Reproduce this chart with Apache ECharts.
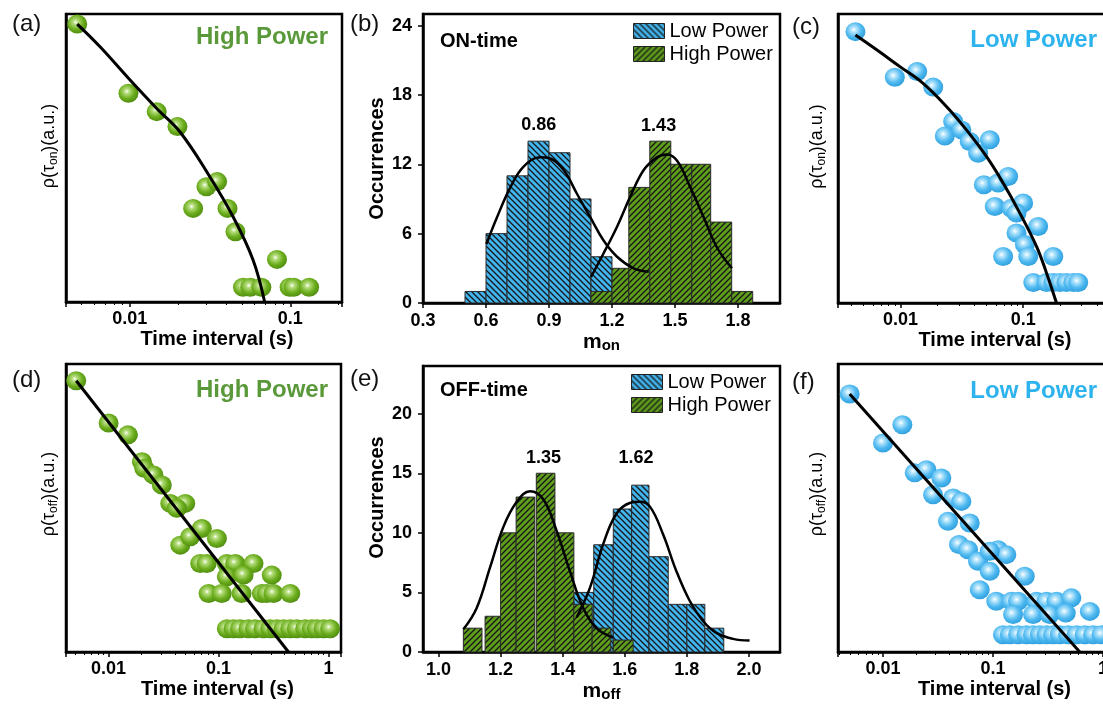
<!DOCTYPE html>
<html>
<head>
<meta charset="utf-8">
<title>ON/OFF time statistics</title>
<script src="https://cdn.jsdelivr.net/npm/echarts@6.0.0/dist/echarts.min.js"></script>
<style>
  html, body { margin: 0; padding: 0; background: #fff; }
  #main { width: 1103px; height: 705px; }
</style>
</head>
<body>
<div id="main"></div>
<script>
(function () {
  'use strict';

  // (a) high power, on-time distribution (x in s, y in arbitrary units 0-100)
  var A_X = [0.0047, 0.0098, 0.0147, 0.0198, 0.030, 0.035, 0.0248, 0.0406, 0.0455, 0.0826, 0.0507, 0.0563, 0.066, 0.099, 0.105, 0.131];
  var A_Y = [96.5, 72.5, 66.1, 60.9, 40.0, 41.8, 32.5, 32.5, 24.4, 14.8, 5.1, 5.1, 5.1, 5.1, 5.1, 5.1];
  var A_FIT_X = [0.0047, 0.0065, 0.0098, 0.0147, 0.0205, 0.0315, 0.044, 0.0586, 0.0692];
  var A_FIT_Y = [96.5, 88.7, 77.7, 67.2, 59.1, 43.5, 29.6, 14.6, 0];

  // (c) low power, on-time distribution
  var C_X = [0.0043, 0.0090, 0.0137, 0.0185, 0.0269, 0.0230, 0.0314, 0.0367, 0.0430, 0.0535, 0.0478, 0.0625, 0.0755, 0.0587, 0.0803,
    0.100, 0.0883, 0.1325, 0.0883, 0.1033, 0.0687, 0.110, 0.176, 0.121, 0.155, 0.176, 0.199, 0.225, 0.256, 0.281];
  var C_Y = [93.9, 78.1, 80.1, 74.7, 62.8, 57.8, 59.9, 55.9, 51.8, 56.5, 40.9, 41.5, 43.8, 33.4, 32.8,
    34.6, 31.1, 26.5, 24.2, 20.2, 16.1, 16.1, 16.1, 7.1, 7.1, 7.1, 7.1, 7.1, 7.1, 7.1];
  var C_FIT_X = [0.0043, 0.0064, 0.0099, 0.0153, 0.0237, 0.0345, 0.0502, 0.0687, 0.094, 0.1285, 0.155, 0.187];
  var C_FIT_Y = [92.7, 87.6, 81.8, 76.0, 68.0, 59.9, 50.7, 41.5, 31.1, 19.6, 10.4, 0];

  // (d) high power, off-time distribution
  var D_X = [0.00508, 0.0100, 0.0150, 0.0201, 0.0211, 0.0256, 0.0305, 0.0364, 0.0498, 0.0418, 0.0449, 0.0553, 0.0705, 0.0967,
    0.0681, 0.0781, 0.119, 0.142, 0.208, 0.119, 0.169, 0.0812, 0.107, 0.162, 0.248, 0.275, 0.316, 0.449, 0.305,
    0.119, 0.137, 0.157, 0.187, 0.215, 0.256, 0.295, 0.339, 0.390, 0.449, 0.515, 0.614, 0.705, 0.783, 0.901, 1.035];
  var D_Y = [94.2, 79.5, 75.4, 66.1, 63.8, 61.5, 58.0, 51.6, 51.6, 49.9, 37.1, 40.0, 42.9, 39.4,
    30.7, 30.7, 30.7, 30.7, 30.7, 26.1, 26.7, 20.3, 20.3, 20.3, 20.3, 20.3, 20.3, 20.3, 26.7,
    8.1, 8.1, 8.1, 8.1, 8.1, 8.1, 8.1, 8.1, 8.1, 8.1, 8.1, 8.1, 8.1, 8.1, 8.1, 8.1];
  var D_FIT_X = [0.00508, 0.433];
  var D_FIT_Y = [94.2, 0];

  // (f) low power, off-time distribution
  var F_X = [0.00498, 0.0100, 0.0150, 0.0194, 0.0248, 0.0339, 0.0285, 0.0433, 0.0515, 0.0390, 0.0614, 0.0490, 0.0593, 0.0730,
    0.0933, 0.111, 0.132, 0.0933, 0.0757, 0.107, 0.147, 0.194, 0.169, 0.248, 0.306, 0.377, 0.515, 0.152, 0.231, 0.326, 0.458, 0.757,
    0.123, 0.142, 0.169, 0.201, 0.231, 0.266, 0.306, 0.351, 0.404, 0.481, 0.573, 0.681, 0.811, 0.966];
  var F_Y = [89.6, 72.6, 78.9, 62.2, 63.3, 60.4, 54.6, 53.5, 52.3, 45.4, 44.8, 37.3, 35.5, 31.5,
    28.0, 35.5, 33.8, 35.0, 21.6, 17.6, 17.6, 26.3, 17.6, 17.6, 17.6, 17.6, 18.8, 13.0, 13.0, 13.0, 13.5, 14.1,
    6.0, 6.0, 6.0, 6.0, 6.0, 6.0, 6.0, 6.0, 6.0, 6.0, 6.0, 6.0, 6.0, 6.0];
  var F_FIT_X = [0.00498, 0.614];
  var F_FIT_Y = [89.6, 0];

  // (b) ON-time histograms: bin start, bin end, count
  var B_LOW_START = [0.5, 0.6, 0.7, 0.8, 0.9, 1.0, 1.1];
  var B_LOW_END = [0.6, 0.7, 0.8, 0.9, 1.0, 1.1, 1.2];
  var B_LOW_COUNT = [1, 6, 11, 14, 13, 9, 4];
  var B_HIGH_START = [1.1, 1.2, 1.28, 1.38, 1.48, 1.58, 1.67, 1.77];
  var B_HIGH_END = [1.2, 1.28, 1.38, 1.48, 1.58, 1.67, 1.77, 1.87];
  var B_HIGH_COUNT = [1, 3, 10, 14, 12, 12, 7, 1];
  var B_LOW_FIT_X = [0.602, 0.652, 0.716, 0.779, 0.859, 0.906, 0.970, 1.033, 1.097, 1.160, 1.224, 1.303, 1.375];
  var B_LOW_FIT_Y = [5.1, 7.4, 10.0, 11.8, 12.6, 12.5, 11.5, 9.45, 7.4, 5.4, 4.0, 3.0, 2.7];
  var B_HIGH_FIT_X = [1.10, 1.16, 1.224, 1.287, 1.351, 1.414, 1.462, 1.510, 1.573, 1.637, 1.700, 1.771];
  var B_HIGH_FIT_Y = [2.25, 4.3, 6.6, 9.2, 11.5, 12.6, 12.85, 12.3, 10.0, 7.4, 4.8, 3.0];
  var B_PEAK_TEXT = ['0.86', '1.43'];
  var B_PEAK_X = [0.851, 1.422];
  var B_PEAK_Y = [15.4, 15.3];

  // (e) OFF-time histograms
  var E_LOW_START = [1.436, 1.50, 1.563, 1.622, 1.678, 1.74, 1.80, 1.858];
  var E_LOW_END = [1.50, 1.563, 1.622, 1.678, 1.74, 1.80, 1.858, 1.919];
  var E_LOW_COUNT = [5, 9, 12, 14, 8, 4, 4, 2];
  var E_HIGH_START = [1.08, 1.15, 1.20, 1.25, 1.315, 1.375, 1.436, 1.495, 1.563];
  var E_HIGH_END = [1.14, 1.20, 1.25, 1.31, 1.375, 1.436, 1.495, 1.555, 1.627];
  var E_HIGH_COUNT = [2, 3, 10, 13, 15, 10, 4, 2, 1];
  var E_LOW_FIT_X = [1.445, 1.488, 1.531, 1.573, 1.616, 1.648, 1.681, 1.723, 1.766, 1.809, 1.852, 1.895, 1.949, 2.002];
  var E_LOW_FIT_Y = [2.9, 5.4, 9.1, 11.6, 12.5, 12.6, 12.2, 9.9, 6.8, 4.3, 2.6, 1.6, 1.1, 0.96];
  var E_HIGH_FIT_X = [1.080, 1.123, 1.166, 1.209, 1.252, 1.295, 1.338, 1.380, 1.423, 1.466, 1.509, 1.563];
  var E_HIGH_FIT_Y = [1.9, 3.7, 7.1, 10.5, 12.6, 13.5, 12.8, 10.2, 6.8, 3.7, 2.0, 1.2];
  var E_PEAK_TEXT = ['1.35', '1.62'];
  var E_PEAK_X = [1.338, 1.636];
  var E_PEAK_Y = [16.3, 16.3];

  // tick labels
  var B_X_TICKS = [0.3, 0.6, 0.9, 1.2, 1.5, 1.8];
  var B_Y_TICKS = [0, 6, 12, 18, 24];
  var E_X_TICKS = [1.0, 1.2, 1.4, 1.6, 1.8, 2.0];
  var E_Y_TICKS = [0, 5, 10, 15, 20];

  var FONT = '"Liberation Sans", Arial, Helvetica, sans-serif';
  var BLACK = '#000';
  var GREEN_TEXT = '#5a993a';
  var BLUE_TEXT = '#2db3ed';

  function hatch(bg, rising) {
    var s = 6;
    var c = document.createElement('canvas');
    c.width = s;
    c.height = s;
    var g = c.getContext('2d');
    g.fillStyle = bg;
    g.fillRect(0, 0, s, s);
    g.strokeStyle = '#161616';
    g.lineWidth = 1.3;
    g.beginPath();
    if (rising) {
      g.moveTo(-1, s + 1); g.lineTo(s + 1, -1);
      g.moveTo(-1, 1); g.lineTo(1, -1);
      g.moveTo(s - 1, s + 1); g.lineTo(s + 1, s - 1);
    } else {
      g.moveTo(-1, -1); g.lineTo(s + 1, s + 1);
      g.moveTo(s - 1, -1); g.lineTo(s + 1, 1);
      g.moveTo(-1, s - 1); g.lineTo(1, s + 1);
    }
    g.stroke();
    return {image: c, repeat: 'repeat'};
  }

  function sphere(light, base, dark) {
    return {
      type: 'radial', x: 0.42, y: 0.4, r: 0.62,
      colorStops: [
        {offset: 0, color: '#ffffff'},
        {offset: 0.2, color: light},
        {offset: 0.62, color: base},
        {offset: 1, color: dark}
      ]
    };
  }

  var LOW_FILL = hatch('#42b4ee', false);
  var HIGH_FILL = hatch('#5f9d1c', true);
  var GREEN_BALL = sphere('#b4dd7c', '#6cad1d', '#4f8c10');
  var BLUE_BALL = sphere('#b8e6fc', '#4fb9f0', '#2f9fdd');

  function pairs(xs, ys) {
    return xs.map(function (x, i) { return [x, ys[i]]; });
  }

  function bins(starts, ends, counts) {
    return counts.map(function (c, i) { return [starts[i], ends[i], c]; });
  }

  function axisLine() {
    return {show: true, onZero: false, lineStyle: {color: BLACK, width: 2.5}};
  }

  function decadeLabel(v) {
    var l = Math.log(v) / Math.LN10;
    var r = Math.round(l);
    if (Math.abs(l - r) > 1e-6) {
      return '';
    }
    return String(Math.pow(10, r));
  }

  var grids = [
    {left: 66, top: 14, width: 276, height: 288},
    {left: 423, top: 14, width: 357, height: 289},
    {left: 838, top: 14, width: 276, height: 289},
    {left: 66, top: 364, width: 275, height: 288},
    {left: 423, top: 366, width: 357, height: 286},
    {left: 838, top: 364, width: 275, height: 288}
  ].map(function (g) {
    g.show = true;
    g.borderColor = BLACK;
    g.borderWidth = 2.5;
    g.backgroundColor = 'transparent';
    g.containLabel = false;
    g.outerBoundsMode = 'none';
    return g;
  });

  function logAxis(gi, min, max, namePad) {
    return {
      type: 'log', logBase: 10, gridIndex: gi, min: min, max: max,
      axisLine: axisLine(),
      axisTick: {show: true, length: 5, lineStyle: {color: BLACK, width: 1.5}},
      minorTick: {show: true, splitNumber: 9, length: 3, lineStyle: {color: BLACK, width: 1}},
      axisLabel: {margin: 8, color: BLACK, fontFamily: FONT, fontWeight: 'bold', fontSize: 18, formatter: decadeLabel},
      splitLine: {show: false},
      minorSplitLine: {show: false},
      name: 'Time interval (s)', nameLocation: 'middle', nameGap: 27,
      nameTextStyle: {color: BLACK, fontFamily: FONT, fontWeight: 'bold', fontSize: 20, padding: [0, 0, 0, namePad]}
    };
  }

  function blankYAxis(gi, sub, gap, namePad) {
    return {
      type: 'value', gridIndex: gi, min: 0, max: 100,
      axisLine: axisLine(),
      axisTick: {show: false},
      axisLabel: {show: false},
      splitLine: {show: false},
      name: '{n|ρ(τ}{s|' + sub + '}{n|)(a.u.)}', nameLocation: 'middle', nameGap: gap,
      nameTextStyle: {
        color: BLACK, fontFamily: FONT, fontSize: 18, padding: [0, 0, 0, namePad],
        rich: {
          n: {color: BLACK, fontFamily: FONT, fontSize: 18, lineHeight: 22},
          s: {color: BLACK, fontFamily: FONT, fontSize: 12, lineHeight: 12, verticalAlign: 'bottom'}
        }
      }
    };
  }

  function histXAxis(gi, min, max, ticks, sub) {
    return {
      type: 'value', gridIndex: gi, min: min, max: max,
      axisLine: axisLine(),
      axisTick: {show: true, length: 5, customValues: ticks, lineStyle: {color: BLACK, width: 1.5}},
      axisLabel: {
        customValues: ticks, margin: 9, color: BLACK, fontFamily: FONT, fontWeight: 'bold', fontSize: 18,
        formatter: function (v) { return Number(v).toFixed(1); }
      },
      splitLine: {show: false},
      name: '{m|m}{s|' + sub + '}', nameLocation: 'middle', nameGap: 28,
      nameTextStyle: {
        color: BLACK, fontFamily: FONT, fontWeight: 'bold', fontSize: 20,
        rich: {
          m: {color: BLACK, fontFamily: FONT, fontWeight: 'bold', fontSize: 21, lineHeight: 22},
          s: {color: BLACK, fontFamily: FONT, fontWeight: 'bold', fontSize: 15, lineHeight: 15, verticalAlign: 'bottom'}
        }
      }
    };
  }

  function histYAxis(gi, max, ticks, namePad) {
    return {
      type: 'value', gridIndex: gi, min: 0, max: max,
      axisLine: axisLine(),
      axisTick: {show: true, length: 5, customValues: ticks, lineStyle: {color: BLACK, width: 1.5}},
      axisLabel: {customValues: ticks, margin: 11, color: BLACK, fontFamily: FONT, fontWeight: 'bold', fontSize: 18},
      splitLine: {show: false},
      name: 'Occurrences', nameLocation: 'middle', nameGap: 36,
      nameTextStyle: {color: BLACK, fontFamily: FONT, fontWeight: 'bold', fontSize: 20, padding: [0, 0, 0, namePad]}
    };
  }

  function scatterSeries(gi, xs, ys, fill) {
    return {
      type: 'scatter', xAxisIndex: gi, yAxisIndex: gi, data: pairs(xs, ys),
      symbol: 'circle', symbolSize: [20, 19], itemStyle: {color: fill, opacity: 1}, z: 3, silent: true
    };
  }

  function fitSeries(gi, xs, ys, width) {
    return {
      type: 'line', xAxisIndex: gi, yAxisIndex: gi, data: pairs(xs, ys),
      showSymbol: false, symbol: 'none', smooth: 0.4,
      lineStyle: {color: BLACK, width: width}, z: 4, silent: true
    };
  }

  function barRenderer(fill) {
    return function (params, api) {
      var lo = api.coord([api.value(0), 0]);
      var hi = api.coord([api.value(1), api.value(2)]);
      return {
        type: 'rect',
        shape: {x: lo[0], y: hi[1], width: hi[0] - lo[0], height: lo[1] - hi[1]},
        style: {fill: fill, stroke: '#2a2a2a', lineWidth: 1}
      };
    };
  }

  function histSeries(gi, name, data, fill) {
    return {
      type: 'custom', name: name, xAxisIndex: gi, yAxisIndex: gi, data: data,
      encode: {x: [0, 1], y: 2}, renderItem: barRenderer(fill),
      itemStyle: {color: fill, borderColor: '#2a2a2a', borderWidth: 1}, z: 2, silent: true
    };
  }

  // peak values written above each fitted curve
  function peakSeries(gi, texts, xs, ys) {
    return {
      type: 'scatter', xAxisIndex: gi, yAxisIndex: gi, symbol: 'circle', symbolSize: 0.5,
      itemStyle: {color: '#fff', opacity: 1},
      data: texts.map(function (t, i) { return {name: t, value: [xs[i], ys[i]]}; }),
      label: {
        show: true, position: 'inside', formatter: '{b}', opacity: 1,
        color: '#000', textBorderWidth: 0, fontFamily: FONT, fontWeight: 'bold', fontSize: 18
      },
      z: 5, silent: true
    };
  }

  function legendAt(left, top) {
    return {
      data: ['Low Power', 'High Power'], orient: 'vertical', left: left, top: top, padding: 0,
      itemGap: 3, itemWidth: 31, itemHeight: 15, icon: 'rect', selectedMode: false,
      textStyle: {color: BLACK, fontFamily: FONT, fontSize: 20},
      itemStyle: {borderColor: '#222', borderWidth: 1}
    };
  }

  function text(x, y, str, font, fill, align) {
    return {
      type: 'text', x: x, y: y, silent: true,
      style: {text: str, font: font, fill: fill, align: align || 'left', verticalAlign: 'middle'}
    };
  }

  var PANEL_FONT = '24px ' + FONT;
  var TAG_FONT = 'bold 24px ' + FONT;
  var NOTE_FONT = 'bold 20px ' + FONT;

  var option = {
    backgroundColor: '#fff',
    animation: false,
    grid: grids,
    xAxis: [
      logAxis(0, 0.004, 0.21, 26),
      histXAxis(1, 0.3, 2.0, B_X_TICKS, 'on'),
      logAxis(2, 0.0031, 0.55, 38),
      logAxis(3, 0.0041, 1.3, 28),
      histXAxis(4, 0.95, 2.1, E_X_TICKS, 'off'),
      logAxis(5, 0.0039, 1.23, 38)
    ],
    yAxis: [
      blankYAxis(0, 'on', 6, 24),
      histYAxis(1, 25, B_Y_TICKS, 0),
      blankYAxis(2, 'on', 10, 24),
      blankYAxis(3, 'off', 6, 28),
      histYAxis(4, 24, E_Y_TICKS, 23),
      blankYAxis(5, 'off', 10, 28)
    ],
    legend: [legendAt(633, 21), legendAt(631, 372)],
    graphic: [
      text(12, 24, '(a)', PANEL_FONT, '#111'),
      text(350, 24, '(b)', PANEL_FONT, '#111'),
      text(792, 27, '(c)', PANEL_FONT, '#111'),
      text(12, 380, '(d)', PANEL_FONT, '#111'),
      text(350, 379, '(e)', PANEL_FONT, '#111'),
      text(792, 382, '(f)', PANEL_FONT, '#111'),
      text(328, 37, 'High Power', TAG_FONT, GREEN_TEXT, 'right'),
      text(1097, 40, 'Low Power', TAG_FONT, BLUE_TEXT, 'right'),
      text(328, 390, 'High Power', TAG_FONT, GREEN_TEXT, 'right'),
      text(1097, 391, 'Low Power', TAG_FONT, BLUE_TEXT, 'right'),
      text(440, 41, 'ON-time', NOTE_FONT, BLACK),
      text(440, 390, 'OFF-time', NOTE_FONT, BLACK)
    ],
    series: [
      scatterSeries(0, A_X, A_Y, GREEN_BALL),
      fitSeries(0, A_FIT_X, A_FIT_Y, 3),

      histSeries(1, 'Low Power', bins(B_LOW_START, B_LOW_END, B_LOW_COUNT), LOW_FILL),
      histSeries(1, 'High Power', bins(B_HIGH_START, B_HIGH_END, B_HIGH_COUNT), HIGH_FILL),
      fitSeries(1, B_LOW_FIT_X, B_LOW_FIT_Y, 2.5),
      fitSeries(1, B_HIGH_FIT_X, B_HIGH_FIT_Y, 2.5),
      peakSeries(1, B_PEAK_TEXT, B_PEAK_X, B_PEAK_Y),

      scatterSeries(2, C_X, C_Y, BLUE_BALL),
      fitSeries(2, C_FIT_X, C_FIT_Y, 3),

      scatterSeries(3, D_X, D_Y, GREEN_BALL),
      fitSeries(3, D_FIT_X, D_FIT_Y, 3),

      histSeries(4, 'Low Power', bins(E_LOW_START, E_LOW_END, E_LOW_COUNT), LOW_FILL),
      histSeries(4, 'High Power', bins(E_HIGH_START, E_HIGH_END, E_HIGH_COUNT), HIGH_FILL),
      fitSeries(4, E_LOW_FIT_X, E_LOW_FIT_Y, 2.5),
      fitSeries(4, E_HIGH_FIT_X, E_HIGH_FIT_Y, 2.5),
      peakSeries(4, E_PEAK_TEXT, E_PEAK_X, E_PEAK_Y),

      scatterSeries(5, F_X, F_Y, BLUE_BALL),
      fitSeries(5, F_FIT_X, F_FIT_Y, 3)
    ]
  };

  var chart = echarts.init(document.getElementById('main'), null, {renderer: 'canvas'});
  chart.setOption(option);
}());
</script>
</body>
</html>
